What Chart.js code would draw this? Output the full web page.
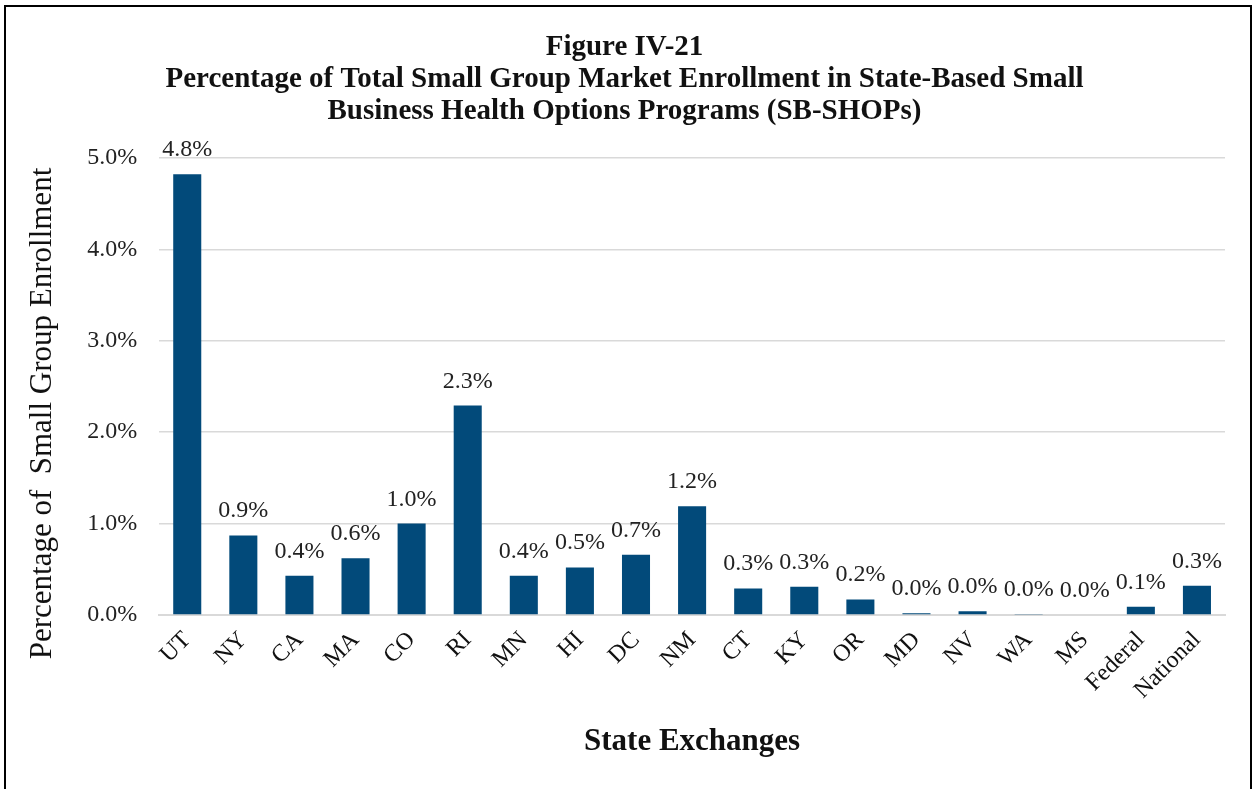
<!DOCTYPE html>
<html>
<head>
<meta charset="utf-8">
<script src="https://cdn.jsdelivr.net/npm/chart.js@4/dist/chart.umd.min.js"></script>
<style>
  html, body { margin: 0; padding: 0; background: #fff; overflow: hidden; }
  #frame {
    position: absolute; left: 4px; top: 5px;
    width: 1244px; height: 800px;
    border: 2px solid #000; background: #fff;
  }
  #wrap { position: absolute; left: 0; top: 0; width: 1244px; height: 782px; }
</style>
</head>
<body>
<div id="frame"><div id="wrap"><canvas id="chart"></canvas></div></div>
<script>
const states = ['UT', 'NY', 'CA', 'MA', 'CO', 'RI', 'MN', 'HI', 'DC', 'NM',
                'CT', 'KY', 'OR', 'MD', 'NV', 'WA', 'MS', 'Federal', 'National'];
// percent of small group enrollment
const shares = [4.82, 0.87, 0.43, 0.62, 1.0, 2.29, 0.43, 0.52, 0.66, 1.19,
                0.29, 0.31, 0.17, 0.02, 0.04, 0.01, 0.0, 0.09, 0.32];
const yTicks = [0, 1, 2, 3, 4, 5];

const serif = "'Liberation Serif', 'Times New Roman', serif";
const barBlue = '#024a7a';

// value labels above each bar
const barLabels = {
    id: 'barLabels',
    afterDatasetsDraw(chart) {
        const ctx = chart.ctx;
        const meta = chart.getDatasetMeta(0);
        ctx.save();
        ctx.font = '24px ' + serif;
        ctx.fillStyle = '#222';
        ctx.textAlign = 'center';
        ctx.textBaseline = 'alphabetic';
        meta.data.forEach((bar, i) => {
            ctx.fillText(shares[i].toFixed(1) + '%', bar.x, bar.y - 18);
        });
        ctx.restore();
    }
};

new Chart(document.getElementById('chart'), {
    type: 'bar',
    data: {
        labels: states,
        datasets: [{
            data: shares,
            backgroundColor: barBlue,
            borderWidth: 0,
            barPercentage: 0.5,
            categoryPercentage: 1.0
        }]
    },
    options: {
        responsive: true,
        maintainAspectRatio: false,
        animation: false,
        layout: { padding: { left: 18, right: 25, top: 0, bottom: 28 } },
        plugins: {
            legend: { display: false },
            tooltip: { enabled: false },
            title: {
                display: true,
                text: ['Figure IV-21',
                       'Percentage of Total Small Group Market Enrollment in State-Based Small',
                       'Business Health Options Programs (SB-SHOPs)'],
                color: '#111',
                font: { family: serif, size: 29, weight: 'bold', lineHeight: 1.09 },
                padding: { top: 25, bottom: 31 }
            }
        },
        scales: {
            x: {
                grid: { display: false, drawTicks: false },
                border: { color: '#d9d9d9', width: 2 },
                ticks: {
                    color: '#111',
                    font: { family: serif, size: 24 },
                    minRotation: 45, maxRotation: 45,
                    padding: 11,
                    autoSkip: false
                },
                title: {
                    display: true,
                    text: 'State Exchanges',
                    color: '#111',
                    font: { family: serif, size: 31, weight: 'bold' },
                    padding: { top: 8, bottom: 0 }
                }
            },
            y: {
                min: 0, max: 5,
                afterBuildTicks(scale) { scale.ticks = yTicks.map(v => ({ value: v })); },
                grid: { color: '#d9d9d9', lineWidth: 1.5, drawTicks: false },
                border: { display: false },
                ticks: {
                    color: '#222',
                    font: { family: serif, size: 24 },
                    padding: 22,
                    callback: v => v.toFixed(1) + '%'
                },
                title: {
                    display: true,
                    // trailing spaces push the centred title a little below the plot centre
                    text: 'Percentage of  Small Group Enrollment       ',
                    color: '#111',
                    font: { family: serif, size: 31 },
                    padding: { top: 0, bottom: 4 }
                }
            }
        }
    },
    plugins: [barLabels]
});
</script>
</body>
</html>
